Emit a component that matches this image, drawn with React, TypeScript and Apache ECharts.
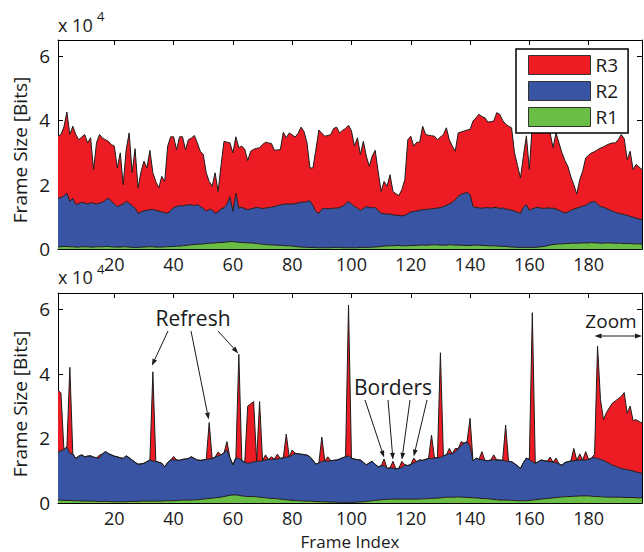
import React, { useEffect, useRef } from "react";
import * as echarts from "echarts";

// ---------- data (frame sizes in kbit per frame) ----------
const FRAME_COUNT = 198;
const FRAMES = Array.from({ length: FRAME_COUNT }, (_, i) => i + 1);
const X_TICKS = [20, 40, 60, 80, 100, 120, 140, 160, 180];
const Y_TICKS = [0, 20000, 40000, 60000];
const SERIES_NAMES = ["R1", "R2", "R3"];
const LEGEND_ORDER = ["R3", "R2", "R1"];

// Upper panel
const TOP_R1 = [
  0.7, 0.7, 0.8, 0.8, 0.7, 0.7, 0.6, 0.6, 0.7, 0.7,
  0.7, 0.6, 0.6, 0.7, 0.7, 0.7, 0.8, 0.8, 0.7, 0.6,
  0.6, 0.6, 0.7, 0.7, 0.6, 0.5, 0.5, 0.5, 0.6, 0.6,
  0.7, 0.7, 0.7, 0.6, 0.6, 0.6, 0.7, 0.7, 0.8, 0.8,
  0.9, 0.9, 1.0, 1.1, 1.2, 1.3, 1.4, 1.5, 1.5, 1.6,
  1.7, 1.8, 1.8, 1.9, 2.0, 2.0, 2.1, 2.2, 2.3, 2.3,
  2.2, 2.1, 2.0, 2.0, 1.9, 1.9, 1.8, 1.7, 1.6, 1.5,
  1.4, 1.3, 1.3, 1.2, 1.2, 1.1, 1.1, 1.0, 1.0, 0.9,
  0.8, 0.7, 0.6, 0.6, 0.5, 0.5, 0.5, 0.4, 0.4, 0.4,
  0.4, 0.4, 0.4, 0.5, 0.5, 0.5, 0.4, 0.4, 0.4, 0.4,
  0.4, 0.4, 0.5, 0.5, 0.5, 0.5, 0.6, 0.6, 0.7, 0.8,
  0.9, 1.0, 1.0, 1.0, 1.1, 1.1, 1.0, 1.0, 1.0, 1.1,
  1.1, 1.1, 1.2, 1.2, 1.2, 1.2, 1.3, 1.3, 1.3, 1.2,
  1.2, 1.2, 1.3, 1.3, 1.2, 1.2, 1.2, 1.1, 1.1, 1.1,
  1.2, 1.2, 1.2, 1.1, 1.1, 1.0, 1.0, 1.0, 0.9, 0.9,
  0.8, 0.8, 0.7, 0.6, 0.6, 0.5, 0.5, 0.5, 0.5, 0.5,
  0.5, 0.5, 0.6, 0.7, 0.8, 1.0, 1.2, 1.4, 1.5, 1.6,
  1.6, 1.7, 1.7, 1.8, 1.8, 1.8, 1.8, 1.9, 1.9, 1.9,
  2.0, 1.9, 1.9, 1.8, 1.8, 1.9, 1.9, 1.8, 1.8, 1.8,
  1.8, 1.7, 1.7, 1.7, 1.6, 1.6, 1.6, 1.5,
];
const TOP_R2 = [
  15.1, 15.3, 15.7, 16.6, 14.1, 15.1, 13.2, 13.6, 13.8, 13.6,
  13.3, 13.8, 13.6, 13.3, 13.6, 13.8, 14.4, 15.0, 14.1, 13.4,
  12.6, 13.0, 13.3, 14.1, 13.6, 13.0, 12.2, 10.6, 10.9, 11.3,
  11.3, 11.5, 11.6, 11.4, 11.2, 10.9, 10.6, 10.4, 11.2, 12.1,
  12.3, 12.6, 12.4, 12.5, 12.6, 12.4, 12.1, 12.3, 11.7, 11.1,
  10.0, 10.5, 10.4, 9.2, 9.5, 10.5, 10.7, 11.8, 14.0, 9.4,
  15.2, 10.6, 11.0, 10.5, 10.3, 10.6, 10.9, 11.2, 11.2, 11.1,
  11.3, 11.6, 11.7, 12.0, 12.3, 12.6, 12.8, 13.0, 13.0, 13.1,
  13.3, 13.6, 14.0, 13.9, 14.3, 14.5, 13.0, 11.2, 10.7, 12.0,
  12.3, 12.1, 12.2, 12.2, 12.2, 12.4, 12.9, 13.6, 14.4, 13.6,
  12.8, 12.3, 11.5, 12.1, 12.7, 12.5, 12.2, 12.3, 11.3, 10.3,
  10.1, 9.8, 9.9, 9.6, 9.4, 9.3, 9.3, 9.5, 10.0, 10.4,
  10.6, 10.7, 10.9, 11.0, 11.1, 11.2, 11.2, 11.3, 11.4, 11.7,
  12.0, 12.4, 12.7, 13.2, 14.1, 15.2, 15.8, 16.2, 16.5, 15.8,
  12.0, 11.7, 11.6, 11.6, 11.7, 11.9, 11.7, 11.9, 12.0, 11.7,
  12.0, 11.6, 11.6, 11.5, 11.2, 10.9, 10.6, 12.5, 13.3, 11.5,
  12.0, 12.3, 12.3, 12.0, 11.8, 11.8, 11.5, 11.3, 10.9, 10.4,
  10.0, 9.5, 9.8, 10.2, 10.6, 10.9, 11.2, 11.4, 11.7, 12.3,
  12.6, 12.9, 12.1, 11.4, 11.2, 10.7, 10.3, 10.0, 9.6, 9.3,
  9.1, 9.0, 8.8, 8.4, 8.3, 8.0, 7.7, 7.6,
];
const TOP_R3 = [
  19.3, 19.6, 21.5, 25.2, 20.8, 22.4, 21.8, 19.8, 20.3, 21.3,
  19.0, 20.2, 10.5, 19.1, 21.3, 20.0, 18.8, 17.7, 17.7, 18.0,
  12.0, 16.3, 6.0, 16.1, 21.9, 10.2, 18.5, 7.9, 12.5, 15.4,
  13.2, 18.5, 11.4, 9.0, 7.2, 11.1, 9.7, 20.9, 22.9, 22.0,
  17.7, 21.4, 21.5, 17.3, 20.2, 20.8, 21.8, 19.2, 17.2, 16.7,
  12.0, 8.7, 7.3, 12.6, 6.4, 13.5, 20.7, 19.2, 16.7, 18.2,
  17.5, 18.8, 19.0, 18.5, 15.3, 17.9, 18.3, 18.4, 18.7, 19.9,
  20.5, 20.1, 19.8, 17.5, 17.3, 17.2, 22.4, 20.6, 22.1, 21.5,
  20.7, 21.7, 23.3, 22.0, 18.2, 10.2, 11.7, 19.4, 25.9, 23.6,
  22.4, 22.8, 23.0, 24.8, 25.2, 23.2, 23.6, 23.5, 23.7, 22.7,
  18.8, 21.9, 17.4, 20.9, 15.7, 12.7, 16.1, 17.8, 12.0, 6.8,
  10.0, 8.7, 12.2, 7.3, 6.7, 6.2, 8.2, 11.1, 23.0, 23.6,
  20.3, 21.4, 21.1, 26.0, 23.3, 23.0, 22.7, 22.5, 21.3, 21.9,
  22.4, 24.1, 20.0, 17.5, 15.1, 19.7, 19.4, 19.4, 19.4, 20.3,
  26.6, 27.9, 29.1, 28.5, 28.0, 26.6, 26.9, 26.9, 29.5, 29.3,
  27.2, 26.4, 25.9, 25.6, 18.1, 14.6, 11.0, 15.9, 21.4, 12.7,
  26.3, 27.2, 26.1, 27.8, 26.9, 25.2, 23.4, 18.8, 23.7, 21.0,
  18.3, 16.3, 14.2, 10.5, 7.6, 4.4, 8.6, 10.9, 14.7, 15.0,
  15.3, 15.5, 16.9, 18.2, 18.8, 19.7, 20.5, 21.2, 21.6, 22.9,
  24.7, 23.6, 17.3, 20.3, 14.8, 16.7, 16.2, 15.6,
];

// Lower panel
const BOT_R1 = [
  0.9, 0.9, 0.8, 0.8, 0.8, 0.7, 0.7, 0.7, 0.6, 0.6,
  0.6, 0.6, 0.6, 0.5, 0.5, 0.5, 0.5, 0.5, 0.4, 0.4,
  0.4, 0.4, 0.4, 0.4, 0.5, 0.5, 0.5, 0.5, 0.6, 0.6,
  0.6, 0.6, 0.6, 0.6, 0.6, 0.6, 0.7, 0.7, 0.7, 0.7,
  0.8, 0.8, 0.9, 0.9, 0.9, 0.9, 1.0, 1.0, 1.1, 1.2,
  1.3, 1.4, 1.5, 1.6, 1.7, 1.8, 2.0, 2.2, 2.4, 2.5,
  2.5, 2.4, 2.2, 2.1, 2.0, 2.0, 2.0, 1.9, 1.8, 1.7,
  1.6, 1.5, 1.4, 1.4, 1.3, 1.2, 1.1, 1.0, 0.9, 0.8,
  0.8, 0.7, 0.7, 0.6, 0.6, 0.6, 0.5, 0.5, 0.4, 0.4,
  0.4, 0.3, 0.3, 0.3, 0.2, 0.2, 0.2, 0.2, 0.2, 0.2,
  0.2, 0.3, 0.3, 0.4, 0.5, 0.6, 0.7, 0.8, 0.9, 1.0,
  1.1, 1.1, 1.2, 1.2, 1.2, 1.2, 1.2, 1.2, 1.2, 1.2,
  1.2, 1.2, 1.2, 1.3, 1.3, 1.4, 1.4, 1.5, 1.5, 1.6,
  1.7, 1.8, 1.8, 1.8, 1.8, 1.9, 1.8, 1.8, 1.7, 1.7,
  1.6, 1.6, 1.5, 1.4, 1.4, 1.3, 1.2, 1.1, 1.0, 0.9,
  0.9, 0.9, 0.9, 0.8, 0.8, 0.7, 0.7, 0.7, 0.7, 0.8,
  0.9, 1.0, 1.1, 1.2, 1.3, 1.4, 1.5, 1.6, 1.7, 1.8,
  1.9, 1.9, 2.0, 2.0, 2.1, 2.1, 2.2, 2.2, 2.2, 2.2,
  2.1, 2.0, 2.0, 1.9, 1.9, 1.8, 1.8, 1.8, 1.8, 1.8,
  1.8, 1.7, 1.7, 1.7, 1.7, 1.6, 1.6, 1.6,
];
const BOT_R2 = [
  14.8, 15.3, 15.7, 16.6, 14.6, 14.5, 13.1, 13.8, 14.3, 13.7,
  13.9, 14.0, 13.6, 13.5, 13.5, 14.7, 15.4, 14.8, 14.5, 14.1,
  13.9, 13.6, 13.4, 14.2, 13.5, 12.8, 12.1, 11.5, 11.5, 11.7,
  12.2, 12.7, 12.4, 12.3, 12.0, 11.7, 10.5, 11.8, 12.6, 12.7,
  12.5, 12.4, 12.6, 12.7, 12.9, 13.4, 12.8, 12.3, 12.1, 12.1,
  12.2, 12.2, 12.3, 12.6, 12.9, 13.1, 13.5, 14.2, 11.6, 9.3,
  11.5, 11.4, 11.0, 10.5, 10.3, 10.5, 10.7, 11.0, 11.1, 11.4,
  11.7, 12.0, 12.0, 12.2, 12.3, 12.6, 12.9, 13.2, 13.4, 14.0,
  14.6, 14.5, 14.4, 14.4, 14.2, 13.7, 12.7, 11.5, 12.0, 12.5,
  12.6, 12.6, 12.8, 12.9, 13.1, 13.4, 13.8, 14.1, 14.4, 13.6,
  13.4, 13.1, 13.0, 12.2, 11.3, 11.8, 12.2, 11.2, 10.3, 10.5,
  10.5, 9.6, 9.7, 9.6, 9.3, 9.6, 9.8, 10.6, 10.4, 10.7,
  11.2, 11.6, 12.1, 11.9, 12.2, 12.4, 12.4, 12.4, 12.5, 12.5,
  12.9, 13.1, 13.5, 13.4, 14.0, 14.9, 16.0, 16.7, 17.3, 15.8,
  11.4, 12.3, 12.0, 12.0, 11.8, 11.8, 12.1, 12.3, 12.3, 12.4,
  12.3, 12.1, 12.0, 12.0, 11.4, 10.8, 10.0, 11.8, 13.2, 12.7,
  11.9, 11.3, 11.7, 12.1, 11.8, 11.5, 11.3, 11.0, 10.8, 10.3,
  9.8, 10.6, 10.8, 11.0, 11.0, 11.1, 11.1, 11.1, 11.1, 11.3,
  11.8, 12.1, 11.8, 11.6, 11.3, 10.9, 10.4, 9.9, 9.6, 9.2,
  8.9, 8.8, 8.6, 8.4, 8.2, 8.0, 7.8, 7.6,
];
const BOT_R3 = [
  19.3, 17.8, 0, 0, 26.6, 0, 0, 0, 0, 0,
  0, 0, 0, 0, 0.8, 0, 0, 0, 0, 0,
  0, 0, 0, 0, 0, 0, 0, 0, 0, 0,
  0, 0, 27.6, 0, 0, 0, 0, 0, 0, 1.0,
  0, 0, 0, 0, 0, 0, 0, 0, 0, 0,
  0, 11.3, 0, 0, 1.2, 0, 0, 2.6, 0, 0,
  0, 32.2, 0, 0, 17.7, 18.2, 18.7, 0, 18.5, 0,
  1.6, 0, 0.9, 0, 1.5, 0, 0, 7.1, 0, 1.6,
  0, 0, 0, 0, 0, 0, 0, 0, 0, 7.5,
  0, 1.4, 0, 0, 0, 0, 0, 0, 46.7, 0,
  0, 0, 0, 0, 0, 0, 0, 0, 0, 0,
  2.0, 0, 0, 2.1, 0, 0, 1.9, 0, 0, 0,
  1.5, 0, 0, 0, 0, 0, 7.2, 0, 0, 32.4,
  0, 0, 1.6, 0, 1.1, 0, 1.2, 0, 0, 8.7,
  0, 0, 0, 2.5, 0, 0, 0, 1.5, 0, 0,
  0, 11.1, 0, 0, 0, 0, 0, 0, 0, 0,
  46.1, 0, 0, 0, 0, 0, 1.4, 0, 1.4, 0,
  0, 0, 0, 0, 3.8, 0, 1.9, 0, 2.6, 0,
  0, 1.0, 34.8, 18.5, 12.6, 15.3, 17.3, 19.2, 20.2, 21.3,
  22.3, 23.7, 17.5, 19.9, 15.6, 16.2, 15.8, 15.6,
];

// Annotation targets (frame indices in the lower panel)
const REFRESH_FRAMES = [33, 52, 62];
const BORDER_FRAMES = [111, 114, 117, 121];
const ZOOM_RANGE = [181.6, 198];

// ---------- styling ----------
const W = 644;
const H = 552;
const RED = "#ED1C24";
const BLUE = "#3A54A4";
const GREEN = "#6ABD45";
const EDGE = "#1c1c1c";
const INK = "#1a1a1a";
const FONT = '"Open Sans", "DejaVu Sans", sans-serif';
const COLORS: Record<string, string> = { R1: GREEN, R2: BLUE, R3: RED };

const GRIDS = [
  { left: 58, top: 40, width: 584, height: 209 },
  { left: 58, top: 293, width: 584, height: 210 },
];

function arrowParts(x1: number, y1: number, x2: number, y2: number, head = 7, half = 2.4) {
  const dx = x2 - x1;
  const dy = y2 - y1;
  const L = Math.hypot(dx, dy) || 1;
  const ux = dx / L;
  const uy = dy / L;
  const bx = x2 - ux * head;
  const by = y2 - uy * head;
  return [
    {
      type: "line",
      z: 100,
      silent: true,
      shape: { x1, y1, x2: bx, y2: by },
      style: { stroke: INK, lineWidth: 1 },
    },
    {
      type: "polygon",
      z: 100,
      silent: true,
      shape: {
        points: [
          [x2, y2],
          [bx - uy * half, by + ux * half],
          [bx + uy * half, by - ux * half],
        ],
      },
      style: { fill: INK },
    },
  ];
}

function textEl(text: string, x: number, y: number, size: number, extra: any = {}) {
  return {
    type: "text",
    z: 100,
    silent: true,
    x,
    y,
    ...extra,
    style: {
      text,
      fill: INK,
      fontSize: size,
      fontFamily: FONT,
      align: extra.align || "left",
      verticalAlign: "middle",
    },
  };
}

export default function App() {
  const ref = useRef<HTMLDivElement>(null);

  useEffect(() => {
    if (!ref.current) return;
    const chart = echarts.init(ref.current, null, { renderer: "svg" });

    const bits = (arr: number[]) => arr.map((v) => v * 1000);
    const panels = [
      { R1: TOP_R1, R2: TOP_R2, R3: TOP_R3 },
      { R1: BOT_R1, R2: BOT_R2, R3: BOT_R3 },
    ];

    const series: any[] = [];
    panels.forEach((p: any, g) => {
      SERIES_NAMES.forEach((name) => {
        series.push({
          type: "line",
          name,
          xAxisIndex: g * 2,
          yAxisIndex: g * 2,
          stack: "panel" + g,
          data: bits(p[name]),
          symbol: "none",
          showSymbol: false,
          lineStyle: { color: EDGE, width: 1 },
          areaStyle: { color: COLORS[name], opacity: 1 },
          itemStyle: { color: COLORS[name] },
          emphasis: { disabled: true },
          silent: true,
          z: 2,
        });
      });
    });

    const axisLine = { show: true, onZero: false, lineStyle: { color: "#000", width: 1 } };
    const tickStyle = { color: "#000", width: 1 };
    const labelStyle = { fontSize: 19, color: INK, fontFamily: FONT };
    const xLabelStyle = { fontSize: 18, color: INK, fontFamily: FONT, lineHeight: 18 };
    const isTick = (_i: number, v: string) => X_TICKS.indexOf(Number(v)) >= 0;
    const categories = FRAMES.map(String);

    const xAxis: any[] = [];
    const yAxis: any[] = [];
    GRIDS.forEach((_, g) => {
      ["bottom", "top"].forEach((pos) => {
        xAxis.push({
          gridIndex: g,
          type: "category",
          data: categories,
          boundaryGap: false,
          position: pos,
          axisLine,
          axisTick: { show: true, inside: true, length: 5, interval: isTick, lineStyle: tickStyle },
          axisLabel:
            pos === "bottom"
              ? { show: true, interval: isTick, margin: 6, ...xLabelStyle }
              : { show: false },
          splitLine: { show: false },
        });
      });
      ["left", "right"].forEach((pos) => {
        yAxis.push({
          gridIndex: g,
          type: "value",
          min: 0,
          max: 65000,
          interval: 20000,
          position: pos,
          axisLine,
          axisTick: { show: true, inside: true, length: 5, customValues: Y_TICKS, lineStyle: tickStyle },
          axisLabel:
            pos === "left"
              ? {
                  show: true,
                  customValues: Y_TICKS,
                  margin: 8,
                  formatter: (v: number) => String(v / 10000),
                  ...labelStyle,
                }
              : { show: false },
          splitLine: { show: false },
        });
      });
    });

    chart.setOption({
      animation: false,
      backgroundColor: "#fff",
      grid: GRIDS.map((g) => ({ ...g, containLabel: false })),
      xAxis,
      yAxis,
      legend: {
        data: LEGEND_ORDER,
        orient: "vertical",
        left: 516,
        top: 49,
        itemWidth: 62,
        itemHeight: 19,
        itemGap: 6,
        padding: [6, 10, 6, 12],
        borderColor: "#000",
        borderWidth: 1.5,
        backgroundColor: "#fff",
        icon: "rect",
        itemStyle: { borderColor: "#333", borderWidth: 1 },
        textStyle: { fontSize: 19, color: INK, fontFamily: FONT },
        selectedMode: false,
        z: 10,
      },
      series,
    });

    // annotation positions derived from the data through the lower panel's axes
    const totalAt = (f: number) => (BOT_R1[f - 1] + BOT_R2[f - 1] + BOT_R3[f - 1]) * 1000;
    const px = (f: number, v: number) =>
      chart.convertToPixel({ xAxisIndex: 2, yAxisIndex: 2 } as any, [f - 1, v]) as number[];

    const graphic: any[] = [];
    // exponent labels
    graphic.push(textEl("x 10", 58, 25, 18));
    graphic.push(textEl("4", 97, 16, 13));
    graphic.push(textEl("x 10", 58, 277, 18));
    graphic.push(textEl("4", 97, 269, 13));
    // axis titles
    graphic.push(textEl("Frame Size [Bits]", 20, 150, 19, { rotation: Math.PI / 2, align: "center" }));
    graphic.push(textEl("Frame Size [Bits]", 20, 404, 19, { rotation: Math.PI / 2, align: "center" }));
    graphic.push(textEl("Frame Index", 350, 541, 17, { align: "center" }));

    // Refresh
    graphic.push(textEl("Refresh", 193, 318, 21, { align: "center" }));
    const refreshStarts = [
      [168, 331],
      [191, 331],
      [218, 331],
    ];
    const refreshOffsets = [
      [-1, -6],
      [-0.5, -3],
      [-0.5, -1],
    ];
    REFRESH_FRAMES.forEach((f, i) => {
      const p = px(f, totalAt(f));
      graphic.push(
        ...arrowParts(
          refreshStarts[i][0],
          refreshStarts[i][1],
          p[0] + refreshOffsets[i][0],
          p[1] + refreshOffsets[i][1]
        )
      );
    });

    // Borders
    graphic.push(textEl("Borders", 393, 387, 21, { align: "center" }));
    const borderStarts = [365, 388, 410, 427];
    BORDER_FRAMES.forEach((f, i) => {
      const p = px(f, totalAt(f));
      graphic.push(...arrowParts(borderStarts[i], 400, p[0], p[1] - 1.5));
    });

    // Zoom
    graphic.push(textEl("Zoom", 611, 321, 19, { align: "center" }));
    const zl = px(ZOOM_RANGE[0], 0)[0];
    const zr = px(ZOOM_RANGE[1], 0)[0];
    const zy = 336;
    const mid = (zl + zr) / 2;
    graphic.push(...arrowParts(mid, zy, zl, zy, 7, 2.4));
    graphic.push(...arrowParts(mid, zy, zr, zy, 7, 2.4));

    chart.setOption({ graphic });

    return () => chart.dispose();
  }, []);

  return (
    <div
      ref={ref}
      style={{ position: "fixed", left: 0, top: 0, width: W, height: H, background: "#fff" }}
    />
  );
}
